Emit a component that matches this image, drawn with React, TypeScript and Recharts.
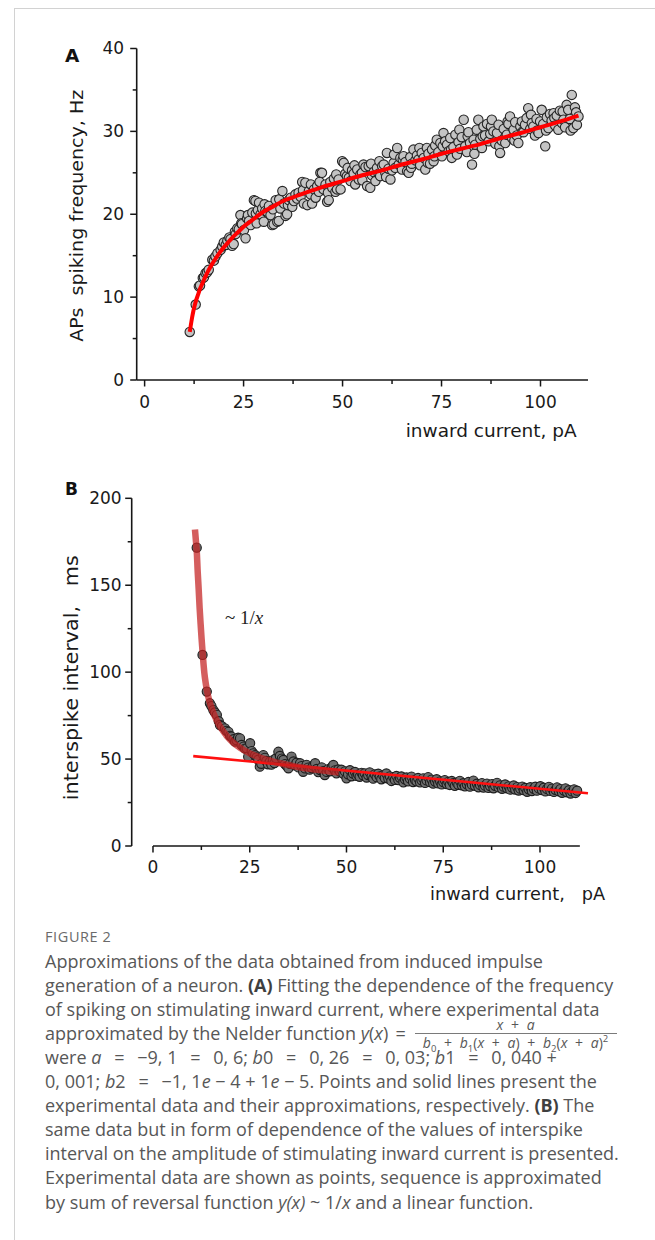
import React from 'react';
import { ComposedChart, Scatter, XAxis, YAxis, ReferenceLine } from 'recharts';

// ---------- Panel A: spiking frequency (Hz) vs inward current (pA) ----------
const freqPoints: [number, number][] = [
  [11.4, 5.8], [12.9, 9.1], [13.7, 11.3], [14.0, 11.4], [14.7, 12.3], [15.0, 12.4], [15.4, 12.9], [15.8, 13.0],
  [16.2, 13.3], [17.1, 14.5], [17.5, 14.4], [17.9, 14.9], [18.4, 15.3], [19.2, 15.7], [19.6, 16.1], [20.0, 16.6],
  [20.5, 16.3], [20.9, 16.8], [21.4, 17.2], [21.7, 17.0], [22.1, 16.2], [22.5, 16.4], [22.8, 17.9], [23.0, 17.6],
  [23.4, 18.3], [23.8, 18.2], [24.2, 19.9], [24.4, 18.9], [24.6, 18.8], [25.1, 18.1], [25.5, 17.1], [25.9, 19.5],
  [26.1, 19.9], [26.4, 19.2], [26.8, 18.7], [27.2, 20.2], [27.6, 21.7], [28.0, 21.6], [28.1, 20.1], [28.3, 18.9],
  [28.6, 20.5], [28.9, 21.4], [29.3, 20.0], [29.7, 20.7], [30.1, 19.1], [30.3, 21.2], [30.5, 20.4], [31.0, 20.3],
  [31.4, 21.0], [31.8, 19.9], [32.2, 18.7], [32.4, 20.6], [32.6, 18.8], [33.1, 21.7], [33.5, 19.1], [33.9, 19.2],
  [34.0, 21.8], [34.3, 20.7], [34.8, 22.8], [35.2, 21.3], [35.6, 19.8], [36.0, 20.0], [36.2, 21.1], [36.4, 21.7],
  [36.9, 22.0], [37.3, 20.9], [37.7, 21.6], [38.1, 22.4], [38.5, 21.9], [38.9, 22.6], [39.4, 22.1], [39.8, 23.9],
  [40.0, 22.9], [40.2, 21.3], [40.6, 23.8], [41.1, 21.1], [41.5, 22.8], [41.9, 22.4], [42.0, 23.6], [42.3, 21.3],
  [42.8, 23.0], [43.2, 22.0], [43.6, 23.4], [44.0, 22.7], [44.2, 23.9], [44.4, 25.0], [44.8, 25.0], [45.2, 23.0],
  [45.7, 23.6], [46.1, 21.5], [46.3, 22.6], [46.5, 21.7], [46.9, 23.9], [47.4, 23.2], [47.8, 24.3], [48.2, 22.7],
  [48.4, 24.8], [48.6, 23.0], [49.0, 24.2], [49.5, 23.0], [49.9, 26.4], [50.3, 26.2], [50.7, 24.9], [51.1, 24.6],
  [51.3, 25.6], [51.6, 24.4], [52.0, 24.0], [52.4, 25.3], [52.8, 24.9], [53.0, 25.9], [53.2, 23.6], [53.7, 25.4],
  [54.1, 24.2], [54.5, 24.8], [54.9, 25.0], [55.0, 24.1], [55.3, 26.0], [55.8, 25.7], [56.2, 23.4], [56.6, 25.8],
  [57.0, 23.2], [57.2, 26.1], [57.4, 24.7], [57.9, 25.1], [58.3, 24.0], [58.7, 25.6], [59.1, 24.9], [59.3, 26.4],
  [59.5, 24.6], [60.0, 25.8], [60.4, 26.0], [60.8, 25.0], [61.0, 24.5], [61.2, 27.4], [61.6, 25.5], [62.1, 24.2],
  [62.5, 25.3], [62.9, 26.2], [63.0, 27.2], [63.3, 25.6], [63.8, 28.0], [64.2, 26.0], [64.6, 26.8], [65.0, 25.4],
  [65.2, 26.6], [65.4, 27.0], [65.9, 26.3], [66.3, 25.2], [66.7, 25.0], [67.1, 26.9], [67.3, 25.6], [67.5, 26.1],
  [67.9, 27.8], [68.4, 26.5], [68.8, 27.1], [69.2, 26.6], [69.4, 28.0], [69.6, 25.9], [70.0, 27.4], [70.5, 26.8],
  [70.9, 25.4], [71.3, 28.0], [71.5, 26.2], [71.7, 27.3], [72.1, 26.1], [72.6, 27.8], [73.0, 26.4], [73.2, 27.0],
  [73.4, 28.3], [73.8, 29.0], [74.2, 27.5], [74.7, 28.6], [75.1, 27.0], [75.3, 28.2], [75.5, 29.8], [75.9, 28.8],
  [76.4, 28.4], [76.8, 27.6], [77.2, 29.2], [77.4, 27.8], [77.6, 26.8], [78.0, 28.1], [78.5, 29.6], [78.9, 27.2],
  [79.3, 28.7], [79.5, 30.2], [79.7, 27.9], [80.1, 29.3], [80.6, 31.4], [81.0, 28.2], [81.4, 27.5], [81.6, 29.4],
  [81.8, 29.9], [82.2, 28.6], [82.7, 26.0], [83.1, 29.0], [83.3, 27.3], [83.5, 28.4], [83.9, 30.2], [84.3, 31.4],
  [84.8, 29.1], [85.2, 28.0], [85.4, 29.4], [85.6, 30.6], [86.0, 29.5], [86.5, 30.9], [86.9, 28.8], [87.3, 29.7],
  [87.5, 30.6], [87.7, 31.4], [88.1, 30.0], [88.6, 28.5], [89.0, 29.8], [89.4, 30.8], [89.6, 28.2], [89.8, 27.4],
  [90.2, 28.9], [90.7, 30.3], [91.1, 28.6], [91.5, 29.6], [91.7, 31.2], [91.9, 30.9], [92.3, 31.8], [92.8, 29.2],
  [93.2, 30.2], [93.4, 28.9], [93.6, 31.1], [94.0, 29.5], [94.4, 28.6], [94.9, 30.6], [95.3, 31.2], [95.5, 30.0],
  [95.7, 29.9], [96.1, 30.8], [96.5, 31.6], [96.9, 32.8], [97.4, 30.3], [97.6, 32.0], [97.8, 31.0], [98.2, 30.6],
  [98.6, 29.5], [99.0, 31.5], [99.2, 30.1], [99.5, 29.8], [99.9, 31.2], [100.3, 32.6], [100.7, 30.9], [101.2, 28.2],
  [101.4, 30.1], [101.6, 31.7], [102.0, 30.4], [102.4, 32.1], [102.8, 31.3], [103.3, 32.2], [103.5, 31.6], [103.7, 30.7],
  [104.1, 31.9], [104.5, 30.2], [104.9, 32.5], [105.4, 31.0], [105.6, 32.4], [105.8, 31.4], [106.2, 30.5], [106.6, 33.2],
  [107.0, 32.6], [107.4, 31.5], [107.6, 30.1], [107.9, 34.4], [108.3, 30.4], [108.7, 32.9], [109.0, 32.3], [109.2, 30.8],
  [109.6, 31.8],
];

const freqFit: [number, number][] = [
  [11.4, 5.8], [11.6, 6.4], [11.8, 7.0], [12.0, 7.55], [12.3, 8.3], [12.6, 8.9], [13, 9.6], [13.5, 10.3], [14, 11.0],
  [14.5, 11.55], [15, 12.1], [15.5, 12.6], [16, 13.1], [17, 13.95], [18, 14.7], [19, 15.4], [20, 16.0], [21, 16.55],
  [22, 17.1], [23.5, 17.8], [25, 18.5], [26.5, 19.05], [28, 19.6], [30, 20.3], [32.5, 20.95], [35, 21.6], [37.5, 22.05],
  [40, 22.5], [42.5, 22.9], [45, 23.3], [47.5, 23.65], [50, 24.0], [55, 24.7], [60, 25.3], [65, 26.0], [70, 26.6],
  [75, 27.3], [80, 27.9], [85, 28.5], [90, 29.2], [95, 29.8], [100, 30.5], [105, 31.2], [109.6, 31.9],
];

// ---------- Panel B: interspike interval (ms) vs inward current (pA) ----------
const isiPoints: [number, number][] = [
  [11.3, 171.6], [12.8, 109.9], [13.9, 88.8], [14.7, 82.1], [15.1, 80.5], [15.6, 78.2], [16.0, 76.8], [16.5, 75.4],
  [17.0, 71.8], [17.3, 69.6], [17.8, 68.9], [18.6, 67.7], [19.0, 66.2], [19.5, 65.7], [19.9, 63.4], [20.3, 62.9],
  [20.8, 61.4], [21.2, 60.0], [21.6, 60.8], [22.0, 62.3], [22.5, 61.9], [22.9, 58.1], [23.4, 57.2], [23.8, 56.0],
  [24.2, 56.2], [24.6, 51.4], [25.1, 59.1], [25.5, 54.6], [25.9, 53.3], [26.4, 52.2], [26.8, 51.0], [27.2, 49.6],
  [27.6, 45.6], [28.0, 47.3], [28.5, 52.3], [28.9, 50.7], [29.3, 48.9], [29.7, 47.0], [30.2, 48.5], [30.6, 46.8],
  [31.0, 49.4], [31.4, 47.7], [31.8, 50.5], [32.4, 54.2], [32.8, 51.8], [33.3, 50.3], [33.7, 49.5], [34.1, 47.1],
  [34.6, 45.9], [35.0, 44.7], [35.4, 47.3], [35.8, 51.4], [36.3, 48.6], [36.7, 46.4], [37.1, 47.9], [37.6, 45.2],
  [38.0, 47.6], [38.4, 46.0], [38.8, 42.7], [39.3, 44.6], [39.7, 46.7], [40.1, 45.1], [40.5, 43.9], [41.0, 44.8],
  [41.4, 46.2], [41.9, 47.6], [42.3, 44.3], [42.7, 42.5], [43.2, 43.7], [43.6, 45.2], [44.0, 43.1], [44.4, 40.8],
  [44.9, 42.6], [45.3, 44.2], [45.7, 43.0], [46.2, 45.4], [46.6, 46.6], [47.0, 43.5], [47.4, 41.8], [47.9, 44.0],
  [48.3, 42.8], [48.7, 43.9], [49.2, 41.5], [49.6, 42.9], [50.0, 38.9], [50.4, 41.2], [50.9, 43.6], [51.3, 40.1],
  [51.7, 41.7], [52.2, 42.6], [52.6, 40.3], [53.0, 41.0], [53.4, 39.8], [53.9, 42.1], [54.3, 40.7], [54.7, 41.8],
  [55.2, 39.4], [55.6, 40.8], [56.0, 42.4], [56.5, 40.1], [56.9, 38.7], [57.3, 41.2], [57.8, 39.6], [58.2, 41.6],
  [58.6, 40.0], [59.0, 38.4], [59.5, 40.6], [59.9, 39.1], [60.3, 41.7], [60.8, 38.8], [61.2, 40.1], [61.6, 37.4],
  [62.1, 39.6], [62.5, 38.0], [62.9, 40.3], [63.4, 37.9], [63.8, 39.2], [64.2, 40.0], [64.7, 36.6], [65.1, 38.4],
  [65.5, 39.4], [65.9, 37.2], [66.4, 38.7], [66.8, 39.9], [67.2, 36.8], [67.7, 38.0], [68.1, 37.2], [68.5, 39.1],
  [69.0, 36.6], [69.4, 37.8], [69.8, 38.9], [70.3, 36.3], [70.7, 37.7], [71.1, 39.6], [71.6, 36.7], [72.0, 38.2],
  [72.4, 35.9], [72.9, 37.1], [73.3, 38.4], [73.7, 36.0], [74.2, 37.2], [74.6, 35.4], [75.0, 36.8], [75.4, 37.9],
  [75.9, 35.6], [76.3, 36.9], [76.7, 35.1], [77.2, 37.4], [77.6, 36.1], [78.0, 34.6], [78.5, 36.4], [78.9, 35.2],
  [79.3, 37.5], [79.8, 34.9], [80.2, 36.1], [80.6, 34.3], [81.1, 35.5], [81.5, 36.8], [81.9, 34.1], [82.4, 35.3],
  [82.8, 37.6], [83.2, 34.6], [83.7, 35.8], [84.1, 33.8], [84.5, 35.1], [85.0, 36.2], [85.4, 33.6], [85.8, 34.7],
  [86.3, 35.9], [86.7, 33.4], [87.1, 34.5], [87.6, 35.6], [88.0, 33.2], [88.4, 34.6], [88.9, 36.3], [89.3, 33.7],
  [89.7, 34.9], [90.2, 32.9], [90.6, 34.1], [91.0, 35.4], [91.5, 33.2], [91.9, 34.3], [92.3, 32.4], [92.8, 33.6],
  [93.2, 34.8], [93.6, 32.5], [94.1, 33.9], [94.5, 31.9], [94.9, 33.0], [95.4, 34.2], [95.8, 32.1], [96.2, 33.4],
  [96.7, 31.2], [97.1, 32.6], [97.5, 33.8], [97.9, 31.6], [98.4, 32.9], [98.8, 34.1], [99.2, 31.8], [99.7, 33.1],
  [100.1, 34.4], [100.5, 32.2], [101.0, 33.5], [101.4, 31.4], [101.8, 32.8], [102.3, 34.0], [102.7, 31.7], [103.1, 33.0],
  [103.6, 31.1], [104.0, 32.3], [104.4, 33.7], [104.9, 31.5], [105.3, 32.7], [105.7, 30.6], [106.2, 31.9], [106.6, 33.2],
  [107.0, 30.9], [107.5, 32.1], [107.9, 30.2], [108.3, 31.4], [108.8, 32.6], [109.2, 30.5], [109.6, 31.8],
];

const isiHyperbola: [number, number][] = [
  [10.85, 182], [11.0, 178], [11.15, 174], [11.3, 170], [11.55, 158], [11.8, 148], [12.05, 137], [12.3, 128],
  [12.55, 119.5], [12.8, 112], [13.05, 105], [13.3, 99], [13.6, 94], [13.9, 90], [14.2, 86.8], [14.5, 84],
  [14.85, 81.3], [15.2, 79], [15.6, 76.6], [16, 74.5], [16.5, 72.1], [17, 70], [17.5, 68.1], [18, 66.5], [18.5, 65],
  [19, 63.5], [19.5, 62.2], [20, 61], [21, 59], [22, 57.3], [23, 55.8], [24, 54.5], [25, 53.3], [26, 52.3], [27, 51.4],
  [28, 50.6], [29, 49.9], [30, 49.2], [31.5, 48.3], [33, 47.5], [34.5, 46.8], [36, 46.1], [38, 45.3], [40, 44.6],
  [42, 44], [44, 43.4], [46, 42.8], [48, 42.3],
];

const isiLinear: [number, number][] = [[10.4, 51.7], [112.4, 30.3]];

// ---------- Ticks ----------
const xTicks = [0, 12.5, 25, 37.5, 50, 62.5, 75, 87.5, 100];
const xTickLabels = [0, 25, 50, 75, 100];
const yTicksA = [0, 5, 10, 15, 20, 25, 30, 35, 40];
const yTickLabelsA = [0, 10, 20, 30, 40];
const yTicksB = [0, 25, 50, 75, 100, 125, 150, 175, 200];
const yTickLabelsB = [0, 50, 100, 150, 200];

const toXY = (arr: [number, number][]) => arr.map(([x, y]) => ({ x, y }));

const AXIS = '#161616';
const TICK_FONT = 'DejaVu Sans';

const bottomTick = (labels: number[], labelDy: number) => (props: any) => {
  const { x, y, payload } = props;
  const major = labels.includes(payload.value);
  return (
    <g>
      <line x1={x} x2={x} y1={y} y2={y + (major ? 6.5 : 4)} stroke={AXIS} strokeWidth={1.5} />
      {major && (
        <text x={x} y={y + labelDy} textAnchor="middle" fontSize={17} fontFamily={TICK_FONT} fill="#1a1a1a">
          {payload.value}
        </text>
      )}
    </g>
  );
};

const leftTick = (labels: number[], labelDx: number, labelDy: number) => (props: any) => {
  const { x, y, payload } = props;
  const major = labels.includes(payload.value);
  return (
    <g>
      <line x1={x} x2={x - (major ? 6.5 : 4)} y1={y} y2={y} stroke={AXIS} strokeWidth={1.5} />
      {major && (
        <text x={x - labelDx} y={y + labelDy} textAnchor="end" fontSize={17} fontFamily={TICK_FONT} fill="#1a1a1a">
          {payload.value}
        </text>
      )}
    </g>
  );
};

const dotA = (p: any) => (
  <circle cx={p.cx} cy={p.cy} r={4.7} fill="#c4c4c4" stroke="#262626" strokeWidth={1.1} />
);
const dotB = (p: any) => (
  <circle cx={p.cx} cy={p.cy} r={4.6} fill="#6f6f6f" stroke="#1c1c1c" strokeWidth={1.1} />
);
const noDot = () => <g />;

const caption = {
  fontFamily: '"Open Sans", sans-serif',
  fontSize: 18,
  color: '#575757',
  whiteSpace: 'nowrap' as const,
  position: 'absolute' as const,
  left: 45,
  lineHeight: '24px',
};

const Eq = () => <span style={{ margin: '0 0.45em' }}>=</span>;
const sub = { fontSize: 9.5, verticalAlign: 'sub', lineHeight: 0 } as const;
const Plus = () => <span style={{ margin: '0 0.55em' }}>+</span>;

export default function App() {
  const lineTop = (i: number) => 962 + 24.1 * i - 13.5;
  return (
    <div style={{ position: 'absolute', left: 0, top: 0, width: 655, height: 1240, background: '#fff', overflow: 'hidden' }}>
      <div style={{ position: 'absolute', left: 14, top: 8, width: 700, height: 1300, borderTop: '1px solid #d2d2d2', borderLeft: '1px solid #d2d2d2' }} />

      {/* Panel A */}
      <div style={{ position: 'absolute', left: 0, top: 0 }}>
        <ComposedChart width={655} height={445} margin={{ top: 48.5, right: 67, bottom: 0, left: 66.7 }}>
          <XAxis
            type="number"
            dataKey="x"
            domain={[-2, 112]}
            ticks={xTicks}
            interval={0}
            tickLine={false}
            tickSize={0}
            tickMargin={0}
            height={65}
            axisLine={{ stroke: AXIS, strokeWidth: 1.6 }}
            tick={bottomTick(xTickLabels, 27.5)}
            label={{
              content: (props: any) => {
                const vb = props.viewBox || {};
                return (
                  <text x={vb.x + vb.width - 11.3} y={vb.y + 57} textAnchor="end" fontSize={18} fontFamily={TICK_FONT}
                    fill="#1a1a1a" textLength={171} lengthAdjust="spacingAndGlyphs">
                    inward current, pA
                  </text>
                );
              },
            }}
          />
          <YAxis
            type="number"
            dataKey="y"
            domain={[0, 40]}
            ticks={yTicksA}
            interval={0}
            width={70}
            tickLine={false}
            tickSize={0}
            tickMargin={0}
            axisLine={{ stroke: AXIS, strokeWidth: 1.6 }}
            tick={leftTick(yTickLabelsA, 12.5, 5.5)}
            label={{
              content: (props: any) => {
                const vb = props.viewBox || {};
                const cx = vb.x + 16;
                const cy = vb.y + vb.height / 2 + 1.5;
                return (
                  <text x={cx} y={cy} transform={`rotate(-90 ${cx} ${cy})`} textAnchor="middle" fontSize={18}
                    fontFamily={TICK_FONT} fill="#1a1a1a" textLength={252} lengthAdjust="spacingAndGlyphs"
                    style={{ whiteSpace: 'pre' }} xmlSpace="preserve">
                    {'APs  spiking frequency, Hz'}
                  </text>
                );
              },
            }}
          />
          <Scatter data={toXY(freqPoints)} dataKey="y" shape={dotA} isAnimationActive={false} />
          <Scatter data={toXY(freqFit)} dataKey="y" shape={noDot} isAnimationActive={false}
            line={{ stroke: '#ff0000', strokeWidth: 4 }} lineJointType="monotoneX" />
        </ComposedChart>
      </div>

      {/* Panel B */}
      <div style={{ position: 'absolute', left: 0, top: 460 }}>
        <ComposedChart width={655} height={445} margin={{ top: 38.3, right: 64.7, bottom: 0, left: 61.7 }}>
          <XAxis
            type="number"
            dataKey="x"
            domain={[-5.5, 113]}
            ticks={xTicks}
            interval={0}
            tickLine={false}
            tickSize={0}
            tickMargin={0}
            height={59}
            axisLine={false}
            tick={bottomTick(xTickLabels, 27)}
            label={{
              content: (props: any) => {
                const vb = props.viewBox || {};
                return (
                  <text x={430} y={vb.y + 53.5} textAnchor="start" fontSize={18} fontFamily={TICK_FONT}
                    fill="#1a1a1a" textLength={175} lengthAdjust="spacingAndGlyphs"
                    style={{ whiteSpace: 'pre' }} xmlSpace="preserve">
                    {'inward current,   pA'}
                  </text>
                );
              },
            }}
          />
          <YAxis
            type="number"
            dataKey="y"
            domain={[0, 200]}
            ticks={yTicksB}
            interval={0}
            width={70}
            tickLine={false}
            tickSize={0}
            tickMargin={0}
            axisLine={{ stroke: AXIS, strokeWidth: 1.6 }}
            tick={leftTick(yTickLabelsB, 10, 6)}
            label={{
              content: (props: any) => {
                const vb = props.viewBox || {};
                const cx = vb.x + 16.3;
                const cy = vb.y + vb.height / 2 + 5.5;
                return (
                  <text x={cx} y={cy} transform={`rotate(-90 ${cx} ${cy})`} textAnchor="middle" fontSize={20}
                    fontFamily={TICK_FONT} fill="#1a1a1a" textLength={245} lengthAdjust="spacingAndGlyphs"
                    style={{ whiteSpace: 'pre' }} xmlSpace="preserve">
                    {'interspike interval,   ms'}
                  </text>
                );
              },
            }}
          />
          <ReferenceLine segment={[{ x: 0, y: 0 }, { x: 110.3, y: 0 }]} stroke={AXIS} strokeWidth={1.6} ifOverflow="visible" />
          <Scatter data={toXY(isiPoints)} dataKey="y" shape={dotB} isAnimationActive={false} />
          <Scatter data={toXY(isiLinear)} dataKey="y" shape={noDot} isAnimationActive={false}
            line={{ stroke: '#ff1010', strokeWidth: 2.6 }} />
          <Scatter data={toXY(isiHyperbola)} dataKey="y" shape={noDot} isAnimationActive={false}
            line={{ stroke: '#c42020', strokeWidth: 6.5, strokeOpacity: 0.72 }} lineJointType="monotoneX" />
        </ComposedChart>
      </div>

      {/* Panel letters and annotation */}
      <svg width={655} height={900} style={{ position: 'absolute', left: 0, top: 0, pointerEvents: 'none' }}>
        <text x={65} y={62} fontSize={18.5} fontWeight="bold" fontFamily={TICK_FONT} fill="#111">A</text>
        <text x={65} y={495} fontSize={17} fontWeight="bold" fontFamily={TICK_FONT} fill="#111">B</text>
        <text x={225} y={624} fontSize={19} fontFamily="Liberation Serif" fill="#222">
          ~ 1/<tspan fontStyle="italic">x</tspan>
        </text>
      </svg>

      {/* Caption */}
      <div style={{ ...caption, top: 925, fontSize: 14.5, letterSpacing: '0.6px', color: '#6a6a6a' }}>FIGURE 2</div>
      <div style={{ ...caption, top: lineTop(0) }}>Approximations of the data obtained from induced impulse</div>
      <div style={{ ...caption, top: lineTop(1) }}>
        generation of a neuron. <b style={{ color: '#3f3f3f' }}>(A)</b> Fitting the dependence of the frequency
      </div>
      <div style={{ ...caption, top: lineTop(2) }}>of spiking on stimulating inward current, where experimental data</div>
      <div style={{ ...caption, top: lineTop(3), height: 24 }}>
        approximated by the Nelder function <i>y</i>(<i>x</i>) <span style={{ margin: '0 0.15em' }}>=</span>
        <span style={{ display: 'inline-block', position: 'relative', width: 202, height: 1, verticalAlign: 'baseline', marginLeft: 6 }}>
          <span style={{ position: 'absolute', left: 0, top: -20, width: 202, textAlign: 'center', fontSize: 14, lineHeight: '12px', whiteSpace: 'nowrap' }}>
            <span style={{ display: 'block', borderBottom: '1px solid #7a7a7a', paddingBottom: 2 }}>
              <i>x</i><Plus /><i>a</i>
            </span>
            <span style={{ display: 'block', paddingTop: 3 }}>
              <i>b</i><span style={sub}>0</span><Plus /><i>b</i><span style={sub}>1</span>(<i>x</i><Plus /><i>a</i>)<Plus /><i>b</i><span style={sub}>2</span>(<i>x</i><Plus /><i>a</i>)<span style={{ fontSize: 9.5, verticalAlign: 'super', lineHeight: 0 }}>2</span>
            </span>
          </span>
        </span>
      </div>
      <div style={{ ...caption, top: lineTop(4) }}>
        were <i>a</i> <Eq /> −9, 1 <Eq /> 0, 6; <i>b</i>0 <Eq /> 0, 26 <Eq /> 0, 03; <i>b</i>1 <Eq /> 0, 040 +
      </div>
      <div style={{ ...caption, top: lineTop(5) }}>
        0, 001; <i>b</i>2 <Eq /> −1, 1<i>e</i> − 4 + 1<i>e</i> − 5. Points and solid lines present the
      </div>
      <div style={{ ...caption, top: lineTop(6) }}>
        experimental data and their approximations, respectively. <b style={{ color: '#3f3f3f' }}>(B)</b> The
      </div>
      <div style={{ ...caption, top: lineTop(7) }}>same data but in form of dependence of the values of interspike</div>
      <div style={{ ...caption, top: lineTop(8) }}>interval on the amplitude of stimulating inward current is presented.</div>
      <div style={{ ...caption, top: lineTop(9) }}>Experimental data are shown as points, sequence is approximated</div>
      <div style={{ ...caption, top: lineTop(10) }}>
        by sum of reversal function <i>y(x)</i> ~ 1/<i>x</i> and a linear function.
      </div>
    </div>
  );
}
